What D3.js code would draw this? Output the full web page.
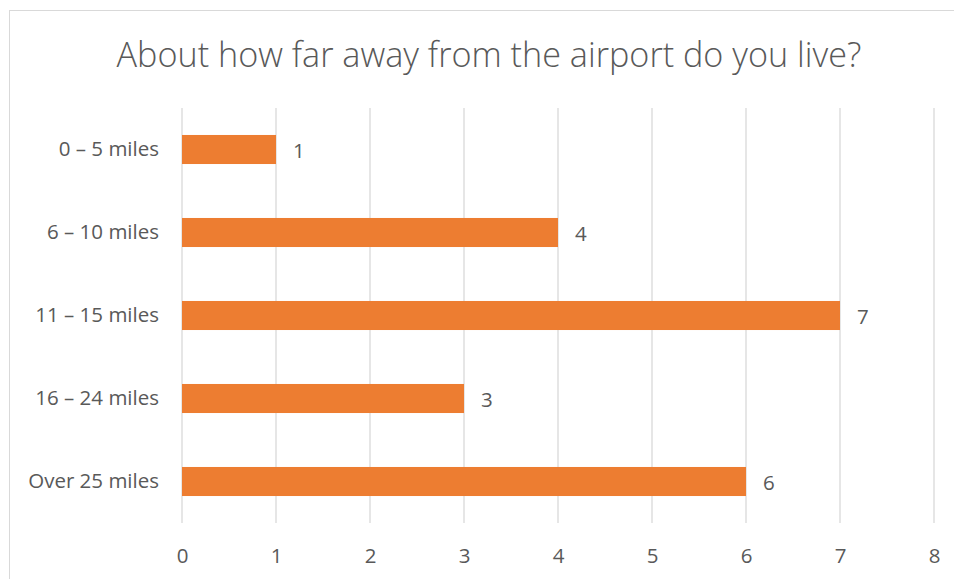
<!DOCTYPE html>
<html lang="en">
  <head>
    <meta charset="utf-8">
    <title>About how far away from the airport do you live?</title>
    <style type="text/css">
body {
  margin: 0;
  background: #fff;
}

svg {
  font-family: "Open Sans", Lato, sans-serif;
}

.grid line {
  stroke: #d9d9d9;
  stroke-width: 1.3px;
}

.axis text, .cat text, .val text {
  fill: #595959;
}

.title {
  fill: #595959;
  font-weight: 300;
}
    </style>
  </head>

  <body>
    <div id="mainCanvas"></div>

    <script src="https://cdn.jsdelivr.net/npm/d3@7/dist/d3.min.js"></script>
    <script>
      var categories = ["0 – 5 miles", "6 – 10 miles", "11 – 15 miles", "16 – 24 miles", "Over 25 miles"];
      var counts = [1, 4, 7, 3, 6];
      var ticks = [0, 1, 2, 3, 4, 5, 6, 7, 8];
      var titleText = "About how far away from the airport do you live?";

      var W = 954, H = 579;
      var plot = {left: 182, right: 934, top: 108, bottom: 523};
      var fs = 20.5;

      var svg = d3.select("#mainCanvas").append("svg")
          .attr("width", W)
          .attr("height", H);

      // chart area frame (runs off the right and bottom edge)
      svg.append("rect")
          .attr("x", 9.5)
          .attr("y", 10.5)
          .attr("width", 980)
          .attr("height", 600)
          .attr("fill", "#fff")
          .attr("stroke", "#d9d9d9");

      var x = d3.scaleLinear()
          .domain([0, 8])
          .range([plot.left, plot.right]);

      var y = d3.scaleBand()
          .domain(categories)
          .range([plot.top, plot.bottom])
          .paddingInner(0.65)
          .paddingOuter(0.325);

      // vertical gridlines
      svg.append("g")
          .attr("class", "grid")
        .selectAll("line")
        .data(ticks)
        .enter()
        .append("line")
          .attr("x1", function(d) { return x(d); })
          .attr("x2", function(d) { return x(d); })
          .attr("y1", plot.top)
          .attr("y2", plot.bottom);

      // x tick labels
      var xAxis = d3.axisBottom(x).tickValues(ticks).tickSize(0).tickPadding(0);
      var gx = svg.append("g")
          .attr("class", "axis")
          .attr("transform", "translate(0," + 563 + ")")
          .call(xAxis);
      gx.select(".domain").remove();
      gx.selectAll("text")
          .attr("dy", 0)
          .attr("font-size", fs)
          .attr("font-family", "'Open Sans', sans-serif");

      // category labels
      var yAxis = d3.axisLeft(y).tickSize(0).tickPadding(0);
      var gy = svg.append("g")
          .attr("class", "cat")
          .attr("transform", "translate(" + 159 + ",0)")
          .call(yAxis);
      gy.select(".domain").remove();
      gy.selectAll("text")
          .attr("font-size", fs)
          .attr("font-family", "'Open Sans', sans-serif");

      // bars
      svg.append("g").selectAll("rect")
        .data(counts)
        .enter()
        .append("rect")
          .attr("x", x(0))
          .attr("y", function(d, i) { return y(categories[i]); })
          .attr("width", function(d) { return x(d) - x(0); })
          .attr("height", y.bandwidth())
          .attr("fill", "#ed7d31");

      // value labels
      svg.append("g")
          .attr("class", "val")
        .selectAll("text")
        .data(counts)
        .enter()
        .append("text")
          .attr("x", function(d) { return x(d) + 17; })
          .attr("y", function(d, i) { return y(categories[i]) + y.bandwidth() / 2 + 1; })
          .attr("dy", "0.35em")
          .attr("font-size", fs)
          .text(function(d) { return d; });

      // title, scaled to the reference width
      var title = svg.append("text")
          .attr("class", "title")
          .attr("x", 489)
          .attr("y", 67)
          .attr("text-anchor", "middle")
          .attr("font-size", 30)
          .text(titleText);
      var tw = title.node().getComputedTextLength();
      title.attr("font-size", 30 * 745 / tw);
    </script>
  </body>
</html>
